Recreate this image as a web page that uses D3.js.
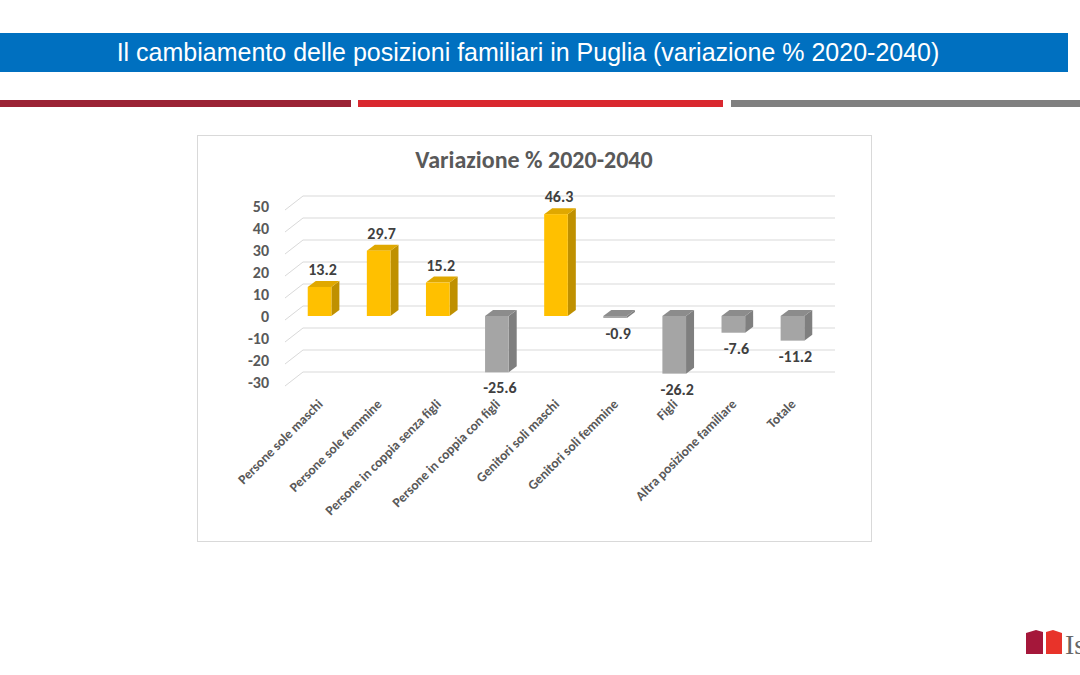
<!DOCTYPE html>
<html><head><meta charset="utf-8">
<script src="https://cdn.jsdelivr.net/npm/d3@7"></script>
<style>body{margin:0;background:#fff}</style></head>
<body><div id="viz-container"></div>
<script>
// data
let categories = ["Persone sole maschi","Persone sole femmine","Persone in coppia senza figli","Persone in coppia con figli","Genitori soli maschi","Genitori soli femmine","Figli","Altra posizione familiare","Totale"];
let values = [13.2, 29.7, 15.2, -25.6, 46.3, -0.9, -26.2, -7.6, -11.2];
let tickValues = [-30,-20,-10,0,10,20,30,40,50];

let viz = d3.select("#viz-container").append("svg")
    .attr("width",1080).attr("height",675)
    .style("font-family","Calibri, Carlito, 'Open Sans', sans-serif");

// header
viz.append("rect").attr("x",0).attr("y",33).attr("width",1068).attr("height",39).attr("fill","#0070C0");
viz.append("text").attr("x",528).attr("y",61).attr("text-anchor","middle")
    .attr("fill","#fff").style("font-size","25px").style("font-family","'Liberation Sans', Arial, sans-serif")
    .text("Il cambiamento delle posizioni familiari in Puglia (variazione % 2020-2040)");
viz.append("rect").attr("x",0).attr("y",100).attr("width",351).attr("height",7).attr("fill","#9B2335");
viz.append("rect").attr("x",358).attr("y",100).attr("width",365).attr("height",7).attr("fill","#D9282F");
viz.append("rect").attr("x",731).attr("y",100).attr("width",349).attr("height",7).attr("fill","#808080");

// logo
viz.append("path").attr("d","M1026,633 L1036,630 L1043,632 L1043,654 L1026,654Z").attr("fill","#A5173A");
viz.append("path").attr("d","M1046,632 L1053,630 L1062,633 L1062,654 L1046,654Z").attr("fill","#E8332A");
viz.append("text").attr("x",1065).attr("y",654).style("font-family","'Liberation Serif', serif")
    .style("font-size","28px").attr("fill","#666").text("Is");

// chart box
viz.append("rect").attr("x",197.5).attr("y",135.5).attr("width",674).attr("height",406)
    .attr("fill","#fff").attr("stroke","#d9d9d9");
viz.append("text").attr("x",534).attr("y",168).attr("text-anchor","middle")
    .attr("fill","#595959").style("font-size","24px").style("font-weight","bold")
    .text("Variazione % 2020-2040");

let y = d3.scaleLinear().domain([-30,50]).range([382,206]);
let x = d3.scaleBand().domain(categories).range([290,822]).paddingInner(0.6).paddingOuter(0.3);
let dx = 18, dy = 12; // back plane offset
let bdx = 8, bdy = 6;  // bar depth

// gridlines (back plane + floor diagonals)
let grid = viz.append("g");
tickValues.forEach(function(t){
    grid.append("line").attr("x1",303).attr("x2",835).attr("y1",y(t)-dy+2).attr("y2",y(t)-dy+2).attr("stroke","#d9d9d9");
    grid.append("line").attr("x1",285).attr("x2",303).attr("y1",y(t)+4).attr("y2",y(t)-dy+2).attr("stroke","#d9d9d9");
});

// axis labels
viz.append("g").selectAll("text").data(tickValues).enter().append("text")
    .attr("x",269).attr("y",function(d){return y(d)+6;}).attr("text-anchor","end")
    .attr("fill","#595959").style("font-size","16px").style("font-weight","bold")
    .text(function(d){return d;});

// bars
let bars = viz.selectAll(".bar").data(values).enter().append("g").attr("class","bar")
    .attr("transform",function(d,i){return "translate("+x(categories[i])+",0)";});
let w = x.bandwidth();
function col(d,k){ let pos = d>=0; return [pos?"#FFC000":"#A5A5A5", pos?"#BF9000":"#7F7F7F", pos?"#E0A800":"#8C8C8C"][k]; }
bars.append("path").attr("d",function(d){
        let t = Math.min(y(d),y(0)), b = Math.max(y(d),y(0));
        return "M"+w+","+t+" L"+(w+bdx)+","+(t-bdy)+" L"+(w+bdx)+","+(b-bdy)+" L"+w+","+b+"Z";})
    .attr("fill",function(d){return col(d,1);});
bars.append("path").attr("d",function(d){
        let t = Math.min(y(d),y(0));
        return "M0,"+t+" L"+bdx+","+(t-bdy)+" L"+(w+bdx)+","+(t-bdy)+" L"+w+","+t+"Z";})
    .attr("fill",function(d){return col(d,2);});
bars.append("rect").attr("x",0).attr("width",w)
    .attr("y",function(d){return Math.min(y(d),y(0));})
    .attr("height",function(d){return Math.abs(y(d)-y(0));})
    .attr("fill",function(d){return col(d,0);});
bars.append("text").attr("x",w/2+3)
    .attr("y",function(d){return d>=0 ? y(d)-12 : y(d)+21;})
    .attr("text-anchor","middle").attr("fill","#404040")
    .style("font-size","16px").style("font-weight","bold")
    .text(function(d){return d.toFixed(1);});

// category labels
viz.append("g").selectAll("text").data(categories).enter().append("text")
    .attr("transform",function(d){return "translate("+(x(d)+w/2+4)+",405) rotate(-45)";})
    .attr("text-anchor","end").attr("fill","#595959")
    .style("font-size","13.5px").style("font-weight","bold")
    .text(function(d){return d;});
</script></body></html>
